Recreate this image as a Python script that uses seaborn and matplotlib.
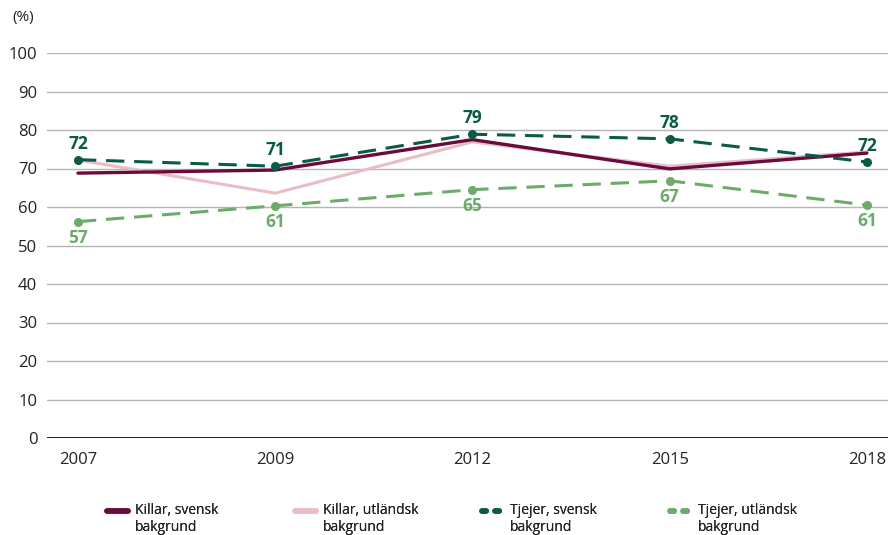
import matplotlib
matplotlib.use("Agg")
import matplotlib.pyplot as plt
import seaborn as sns
import pandas as pd
from matplotlib.lines import Line2D
from matplotlib.legend_handler import HandlerLine2D

years = ["2007", "2009", "2012", "2015", "2018"]
killar_svensk = [68.8, 69.6, 77.5, 69.9, 74.0]
killar_utl = [72.2, 63.6, 76.9, 70.6, 74.3]
tjejer_svensk = [72.3, 70.6, 78.9, 77.7, 71.7]
tjejer_utl = [56.2, 60.3, 64.5, 66.8, 60.5]
tjejer_svensk_labels = ["72", "71", "79", "78", "72"]
tjejer_utl_labels = ["57", "61", "65", "67", "61"]
legend_labels = ["Killar, svensk\nbakgrund", "Killar, utländsk\nbakgrund",
                 "Tjejer, svensk\nbakgrund", "Tjejer, utländsk\nbakgrund"]

c_ks = "#6b0b3b"
c_ku = "#e8bdc4"
c_ts = "#0a5a45"
c_tu = "#6cab6c"

sns.set_theme(style="white")
plt.rcParams["font.family"] = ["Open Sans", "DejaVu Sans"]

fig = plt.figure(figsize=(8.88, 5.35), dpi=100)
ax = fig.add_axes([47/888, 1-438/535, 1-47/888, (438-53)/535])

x = list(range(len(years)))
df = pd.DataFrame({"x": x, "ks": killar_svensk, "ku": killar_utl,
                   "ts": tjejer_svensk, "tu": tjejer_utl})

dash = (6, 3.2)
sns.lineplot(data=df, x="x", y="ku", ax=ax, color=c_ku, lw=2.2, zorder=3)
sns.lineplot(data=df, x="x", y="ks", ax=ax, color=c_ks, lw=2.4, zorder=4)
sns.lineplot(data=df, x="x", y="tu", ax=ax, color=c_tu, lw=2.2, zorder=5,
             marker="o", markersize=6.5, markeredgewidth=0, dashes=False,
             linestyle=(0, dash))
sns.lineplot(data=df, x="x", y="ts", ax=ax, color=c_ts, lw=2.2, zorder=6,
             marker="o", markersize=6.5, markeredgewidth=0, dashes=False,
             linestyle=(0, dash))

for xi, v, lab in zip(x, tjejer_svensk, tjejer_svensk_labels):
    ax.annotate(lab, (xi, v), xytext=(0, 5), textcoords="offset points",
                ha="center", va="bottom", fontsize=12.5, fontweight="bold", color=c_ts)
for xi, v, lab in zip(x, tjejer_utl, tjejer_utl_labels):
    ax.annotate(lab, (xi, v), xytext=(0, -5), textcoords="offset points",
                ha="center", va="top", fontsize=12.5, fontweight="bold", color=c_tu)

ax.set_xlim(-0.157, 4.107)
ax.set_ylim(0, 100)
ax.set_yticks(range(0, 101, 10))
ax.set_xticks(x)
ax.set_xticklabels(years)
ax.set_xlabel("")
ax.set_ylabel("")
ax.yaxis.grid(True, color="#b4b4b4", lw=1)
ax.set_axisbelow(True)
ax.axhline(0, color="#222222", lw=1.4, zorder=2)
for s in ax.spines.values():
    s.set_visible(False)
ax.tick_params(axis="both", length=0, labelsize=12, colors="#222222")
ax.tick_params(axis="y", pad=7)
ax.tick_params(axis="x", pad=10)

fig.text(12/888, 1-18/535, "(%)", fontsize=11, color="#222222", va="center", ha="left")


class TopHandler(HandlerLine2D):
    def create_artists(self, legend, orig_handle, xdescent, ydescent, width,
                       height, fontsize, trans):
        arts = super().create_artists(legend, orig_handle, xdescent, ydescent,
                                      width, height, fontsize, trans)
        for a in arts:
            yd = a.get_ydata()
            a.set_ydata([y + 0.6 * fontsize for y in yd])
        return arts


handles = [
    Line2D([0], [0], color=c_ks, lw=4, solid_capstyle="round"),
    Line2D([0], [0], color=c_ku, lw=4, solid_capstyle="round"),
    Line2D([0], [0], color=c_ts, lw=4, linestyle=(0, (0.75, 1.6)), dash_capstyle="round"),
    Line2D([0], [0], color=c_tu, lw=4, linestyle=(0, (0.75, 1.6)), dash_capstyle="round"),
]
leg_x = [107, 295, 482, 670]
for hx, h, lab in zip(leg_x, handles, legend_labels):
    leg = fig.legend([h], [lab], loc="center left",
                     bbox_to_anchor=(hx/888, 1-519/535), frameon=False, fontsize=10,
                     handlelength=1.5, handletextpad=0.5, borderpad=0,
                     borderaxespad=0, labelcolor="#222222",
                     handler_map={Line2D: TopHandler()})
    fig.add_artist(leg)

fig.savefig("out.png", dpi=100)
